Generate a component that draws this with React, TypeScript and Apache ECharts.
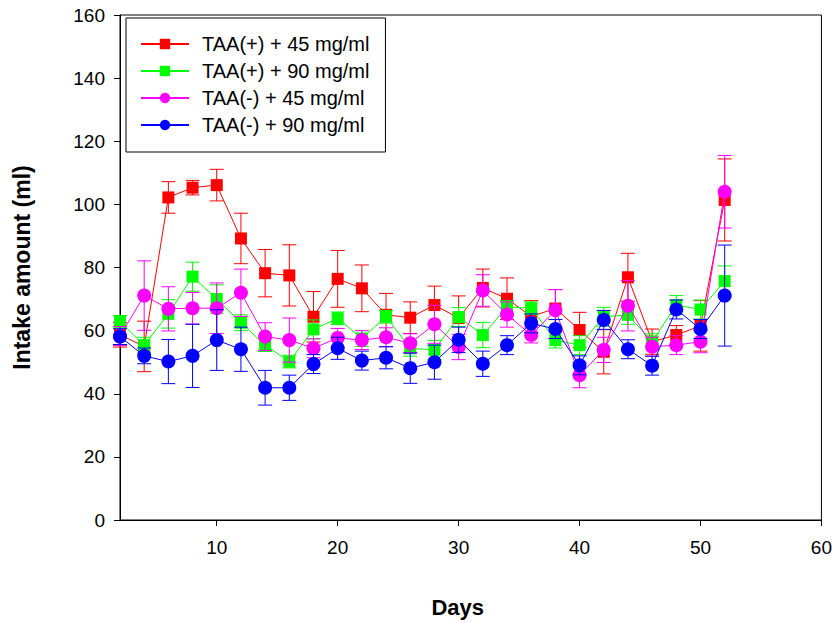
import React, { useEffect, useRef } from "react";
import * as echarts from "echarts";

const days = [2, 4, 6, 8, 10, 12, 14, 16, 18, 20, 22, 24, 26, 28, 30, 32, 34, 36, 38, 40, 42, 44, 46, 48, 50, 52];

const seriesNames = ["TAA(+) + 45 mg/ml", "TAA(+) + 90 mg/ml", "TAA(-) + 45 mg/ml", "TAA(-) + 90 mg/ml"];

const taaPlus45 = [58.7, 55, 102.2, 105.3, 106.1, 89.2, 78.2, 77.5, 64.4, 76.4, 73.4, 65, 64.1, 68.1, 64, 73.5, 70.1, 64.5, 67, 60.2, 53.3, 76.9, 56.5, 58.6, 61.5, 101.4];
const taaPlus45Err = [3.9, 8, 5, 2.3, 5, 8, 7.5, 9.7, 8, 9, 7.4, 6.8, 5, 6, 7, 6, 6.6, 5, 6, 5.6, 7, 7.6, 4, 3, 8, 13];

const taaPlus90 = [62.8, 55.4, 65.3, 77.1, 70, 62.5, 55.4, 50.2, 60.4, 63.9, 57.5, 64.4, 54.4, 53.9, 64.3, 58.6, 67.5, 67.1, 57, 55.4, 64.4, 65, 56.5, 68.1, 66.7, 75.7];
const taaPlus90Err = [2, 2.5, 4.5, 4.6, 4.5, 2.5, 2, 2, 3, 2, 2.5, 2, 2.5, 3, 3, 4, 2, 2, 2.5, 3, 3, 3, 2.5, 3, 3, 4.8];

const taaMinus45 = [58.3, 71.1, 66.9, 67.1, 67.1, 72, 58.1, 57, 54.4, 57.7, 57, 57.9, 56, 62, 54.8, 72.7, 65.1, 58.6, 66.5, 45.9, 53.9, 67.9, 54.9, 55.4, 56.5, 104];
const taaMinus45Err = [3, 11, 7, 5, 8, 7.5, 4.4, 7, 3, 3, 3, 3, 3, 6, 4, 5, 4, 2.5, 6.5, 4, 4, 8, 3, 3, 3.5, 11.5];

const taaMinus90 = [58.1, 52, 50.2, 52, 57, 54.1, 41.9, 41.9, 49.4, 54.4, 50.5, 51.4, 48.1, 50, 57.1, 49.5, 55.4, 62.3, 60.5, 49, 63.4, 54.1, 48.9, 66.7, 60.5, 71.1];
const taaMinus90Err = [2.5, 2.5, 7, 10, 9.6, 7, 5.5, 4, 3, 3.5, 3, 3.5, 4.8, 5.4, 4, 4, 3, 3, 3, 3, 3, 3, 3, 3, 3, 16];

const xTicks = [10, 20, 30, 40, 50, 60];

const FONT = "'Liberation Sans', Arial, Helvetica, sans-serif";

function errSeries(key: string, color: string, vals: number[], errs: number[], z: number) {
  return {
    type: "custom",
    name: key,
    z,
    silent: true,
    data: days.map((d, i) => [d, vals[i], errs[i]]),
    encode: { x: 0, y: 1 },
    renderItem: (params: any, api: any) => {
      const x = api.value(0);
      const y = api.value(1);
      const e = api.value(2);
      const top = api.coord([x, y + e]);
      const bot = api.coord([x, y - e]);
      const hw = 7;
      const style = { stroke: color, lineWidth: 1 };
      return {
        type: "group",
        children: [
          { type: "line", shape: { x1: top[0], y1: top[1], x2: bot[0], y2: bot[1] }, style },
          { type: "line", shape: { x1: top[0] - hw, y1: top[1], x2: top[0] + hw, y2: top[1] }, style },
          { type: "line", shape: { x1: bot[0] - hw, y1: bot[1], x2: bot[0] + hw, y2: bot[1] }, style },
        ],
      };
    },
  };
}

function lineSeries(name: string, color: string, vals: number[], symbol: string, z: number) {
  return {
    type: "line",
    name,
    z,
    data: days.map((d, i) => [d, vals[i]]),
    symbol,
    symbolSize: symbol === "rect" ? 12 : 14,
    showAllSymbol: true,
    lineStyle: { color, width: 1 },
    itemStyle: { color },
  };
}

export default function App() {
  const ref = useRef<HTMLDivElement>(null);
  useEffect(() => {
    if (!ref.current) return;
    const chart = echarts.init(ref.current, null, { renderer: "svg" });
    const colors = ["#ff0000", "#00ff00", "#ff00ff", "#0000ff"];
    chart.setOption({
      animation: false,
      textStyle: { fontFamily: FONT, color: "#000" },
      grid: {
        left: 120,
        right: 13,
        top: 15,
        bottom: 103,
        show: true,
        borderColor: "#000",
        borderWidth: 1,
        backgroundColor: "transparent",
      },
      legend: {
        data: seriesNames,
        orient: "vertical",
        left: 126,
        top: 18,
        itemWidth: 48,
        itemHeight: 13,
        itemGap: 7,
        padding: [16, 16, 17, 14],
        borderColor: "#000",
        borderWidth: 1,
        backgroundColor: "#fff",
        textStyle: { fontFamily: FONT, fontSize: 20, color: "#000", padding: [0, 0, 0, 8] },
        selectedMode: false,
      },
      xAxis: {
        type: "value",
        min: 2,
        max: 60,
        name: "Days",
        nameLocation: "middle",
        nameGap: 76,
        nameTextStyle: { fontFamily: FONT, fontSize: 22, fontWeight: "bold", color: "#000", padding: [0, 26, 0, 0] },
        splitLine: { show: false },
        axisLine: { show: true, onZero: false, lineStyle: { color: "#000", width: 1 } },
        axisTick: { show: true, length: 6, customValues: xTicks, lineStyle: { color: "#000" } },
        axisLabel: { customValues: xTicks, margin: 18, fontSize: 19, color: "#000", fontFamily: FONT },
      },
      yAxis: {
        type: "value",
        min: 0,
        max: 160,
        interval: 20,
        name: "Intake amount (ml)",
        nameLocation: "middle",
        nameGap: 87,
        nameRotate: 90,
        nameTextStyle: { fontFamily: FONT, fontSize: 23, fontWeight: "bold", color: "#000" },
        splitLine: { show: false },
        axisLine: { show: true, lineStyle: { color: "#000", width: 1 } },
        axisTick: { show: true, length: 6, lineStyle: { color: "#000" } },
        axisLabel: { margin: 15, fontSize: 19, color: "#000", fontFamily: FONT },
      },
      series: [
        errSeries("e1", colors[0], taaPlus45, taaPlus45Err, 2),
        lineSeries(seriesNames[0], colors[0], taaPlus45, "rect", 3),
        errSeries("e2", colors[1], taaPlus90, taaPlus90Err, 4),
        lineSeries(seriesNames[1], colors[1], taaPlus90, "rect", 5),
        errSeries("e3", colors[2], taaMinus45, taaMinus45Err, 6),
        lineSeries(seriesNames[2], colors[2], taaMinus45, "circle", 7),
        errSeries("e4", colors[3], taaMinus90, taaMinus90Err, 8),
        lineSeries(seriesNames[3], colors[3], taaMinus90, "circle", 9),
      ],
    });
    return () => chart.dispose();
  }, []);
  return <div ref={ref} style={{ width: 835, height: 623, position: "absolute", left: 0, top: 0 }} />;
}
